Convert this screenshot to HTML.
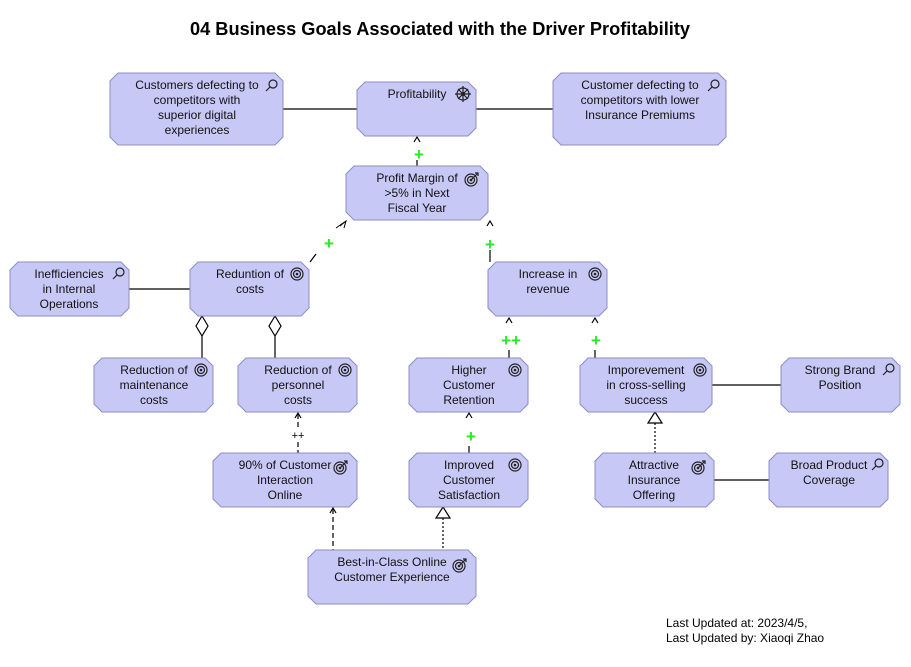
<!DOCTYPE html>
<html><head><meta charset="utf-8"><style>
html,body{margin:0;padding:0;background:#fff;}
svg{display:block;}
text{font-family:"Liberation Sans",sans-serif;}
.t{font-size:12px;fill:#111;text-anchor:middle;}
.n{fill:#c8c8f6;stroke:#8c8cc4;stroke-width:1;}
.i{fill:none;stroke:#222;stroke-width:1.2;}
.g{font-size:17px;font-weight:bold;fill:#22ee22;text-anchor:middle;}
</style></head><body>
<svg width="911" height="667" viewBox="0 0 911 667" xmlns="http://www.w3.org/2000/svg">
<defs>
<g id="tg"><circle r="6" class="i"/><circle r="3.5" class="i"/><circle r="1.3" fill="#222"/></g>
<g id="tga"><circle r="6" class="i"/><circle r="3.5" class="i"/><circle r="1.3" fill="#222"/><path d="M0 0 L7 -7 M4 -7 L7 -7 L7 -4" class="i"/></g>
<g id="mg"><circle cx="2" cy="-2" r="4" class="i"/><path d="M-1 1 L-5 5" class="i"/></g>
</defs>
<text x="440" y="35" font-size="18" font-weight="bold" text-anchor="middle" textLength="500" lengthAdjust="spacingAndGlyphs">04 Business Goals Associated with the Driver Profitability</text>

<g stroke="#000" stroke-width="1.2" fill="none">
<path d="M283 109H357M476 109H553M129 289H190M712 385H781M714 480H769"/>
<path d="M202 336V358M275 336V358"/>
<path d="M202 316L208 326L202 336L196 326Z M275 316L281 326L275 336L269 326Z" fill="#fff"/>
<path d="M417 160V166M490 250V262M509 350V358M595 350V358M469 446V453M310 262L316 254"/>
<path d="M414 142L417 137L420 142M487 226L490 221L493 226M506 323L509 318L512 323M592 323L595 318L598 323M466 418L469 413L472 418M295 418L298 413L301 418M330 513L333 508L336 513"/>
<path d="M340 226L346 221L344 228M346 221L336 228" stroke-width="1"/>
<path d="M298 414V428M298 442V453M333 509V550" stroke-dasharray="5,3"/>
<path d="M655 423V453M443 518V550" stroke-dasharray="2,2"/>
<path d="M655 412L662 423L648 423Z M443 507L450 518L436 518Z" fill="#fff"/>
</g>
<text class="g" x="419" y="160">+</text>
<text class="g" x="329" y="249">+</text>
<text class="g" x="490" y="250">+</text>
<text class="g" x="511" y="346">++</text>
<text class="g" x="596" y="346">+</text>
<text class="g" x="471" y="442">+</text>
<text x="298" y="439" font-size="11" text-anchor="middle">++</text>

<polygon class="n" points="118,73 275,73 283,81 283,137 275,145 118,145 110,137 110,81"/>
<text class="t" x="197" y="89">Customers defecting to</text><text class="t" x="197" y="104">competitors with</text><text class="t" x="197" y="119">superior digital</text><text class="t" x="197" y="134">experiences</text>
<use href="#mg" x="271" y="86"/>

<polygon class="n" points="365,82 468,82 476,90 476,128 468,136 365,136 357,128 357,90"/>
<text class="t" x="417" y="98">Profitability</text>
<g transform="translate(463,94)"><circle r="6" class="i"/><circle r="2" fill="#222"/><path d="M-8 0H8M0 -8V8M-5 -5L5 5M-5 5L5 -5" class="i"/></g>

<polygon class="n" points="561,73 718,73 726,81 726,137 718,145 561,145 553,137 553,81"/>
<text class="t" x="640" y="89">Customer defecting to</text><text class="t" x="640" y="104">competitors with lower</text><text class="t" x="640" y="119">Insurance Premiums</text>
<use href="#mg" x="713" y="86"/>

<polygon class="n" points="354,166 480,166 488,174 488,212 480,220 354,220 346,212 346,174"/>
<text class="t" x="417" y="182">Profit Margin of</text><text class="t" x="417" y="197">&gt;5% in Next</text><text class="t" x="417" y="212">Fiscal Year</text>
<use href="#tga" x="471" y="180"/>

<polygon class="n" points="18,262 121,262 129,270 129,308 121,316 18,316 10,308 10,270"/>
<text class="t" x="69" y="278">Inefficiencies</text><text class="t" x="69" y="293">in Internal</text><text class="t" x="69" y="308">Operations</text>
<use href="#mg" x="118" y="274"/>

<polygon class="n" points="198,262 301,262 309,270 309,308 301,316 198,316 190,308 190,270"/>
<text class="t" x="250" y="278">Reduntion of</text><text class="t" x="250" y="293">costs</text>
<use href="#tg" x="297" y="274"/>

<polygon class="n" points="496,262 599,262 607,270 607,308 599,316 496,316 488,308 488,270"/>
<text class="t" x="548" y="278">Increase in</text><text class="t" x="548" y="293">revenue</text>
<use href="#tg" x="595" y="274"/>

<polygon class="n" points="102,358 205,358 213,366 213,404 205,412 102,412 94,404 94,366"/>
<text class="t" x="154" y="374">Reduction of</text><text class="t" x="154" y="389">maintenance</text><text class="t" x="154" y="404">costs</text>
<use href="#tg" x="201" y="370"/>

<polygon class="n" points="246,358 349,358 357,366 357,404 349,412 246,412 238,404 238,366"/>
<text class="t" x="298" y="374">Reduction of</text><text class="t" x="298" y="389">personnel</text><text class="t" x="298" y="404">costs</text>
<use href="#tg" x="345" y="370"/>

<polygon class="n" points="417,358 520,358 528,366 528,404 520,412 417,412 409,404 409,366"/>
<text class="t" x="469" y="374">Higher</text><text class="t" x="469" y="389">Customer</text><text class="t" x="469" y="404">Retention</text>
<use href="#tg" x="515" y="370"/>

<polygon class="n" points="588,358 704,358 712,366 712,404 704,412 588,412 580,404 580,366"/>
<text class="t" x="646" y="374">Imporevement</text><text class="t" x="646" y="389">in cross-selling</text><text class="t" x="646" y="404">success</text>
<use href="#tg" x="700" y="370"/>

<polygon class="n" points="789,358 892,358 900,366 900,404 892,412 789,412 781,404 781,366"/>
<text class="t" x="840" y="374">Strong Brand</text><text class="t" x="840" y="389">Position</text>
<use href="#mg" x="888" y="370"/>

<polygon class="n" points="221,453 349,453 357,461 357,499 349,507 221,507 213,499 213,461"/>
<text class="t" x="285" y="469">90% of Customer</text><text class="t" x="285" y="484">Interaction</text><text class="t" x="285" y="499">Online</text>
<use href="#tga" x="340" y="468"/>

<polygon class="n" points="417,453 520,453 528,461 528,499 520,507 417,507 409,499 409,461"/>
<text class="t" x="469" y="469">Improved</text><text class="t" x="469" y="484">Customer</text><text class="t" x="469" y="499">Satisfaction</text>
<use href="#tg" x="515" y="465"/>

<polygon class="n" points="603,453 706,453 714,461 714,499 706,507 603,507 595,499 595,461"/>
<text class="t" x="654" y="469">Attractive</text><text class="t" x="654" y="484">Insurance</text><text class="t" x="654" y="499">Offering</text>
<use href="#tga" x="698" y="468"/>

<polygon class="n" points="777,453 880,453 888,461 888,499 880,507 777,507 769,499 769,461"/>
<text class="t" x="829" y="469">Broad Product</text><text class="t" x="829" y="484">Coverage</text>
<use href="#mg" x="877" y="465"/>

<polygon class="n" points="316,550 468,550 476,558 476,596 468,604 316,604 308,596 308,558"/>
<text class="t" x="392" y="566">Best-in-Class Online</text><text class="t" x="392" y="581">Customer Experience</text>
<use href="#tga" x="459" y="566"/>

<text x="666" y="627" font-size="12">Last Updated at: 2023/4/5,</text>
<text x="666" y="642" font-size="12">Last Updated by: Xiaoqi Zhao</text>
</svg>
</body></html>
